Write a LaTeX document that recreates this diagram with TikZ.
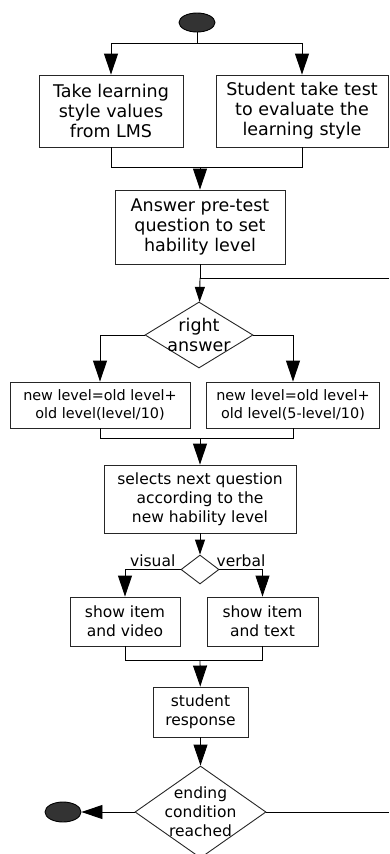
\documentclass[tikz,border=0pt]{standalone}
\usepackage{fontspec}
\setmainfont{DejaVu Sans}
\usetikzlibrary{arrows.meta,shapes.geometric}
\begin{document}
\begin{tikzpicture}[x=1pt,y=-1pt,line width=0.9pt,
                box/.style={draw,black!85,text=black,align=center,inner sep=0pt,font=\fontsize{17.5}{20}\selectfont},
                midbox/.style={box,font=\fontsize{15.5}{19}\selectfont},
                smallbox/.style={box,font=\fontsize{14.4}{18}\selectfont},
                decision/.style={draw,black!85,diamond,inner sep=0pt},
                terminal/.style={draw,ellipse,fill=black!80,minimum width=36pt,minimum height=19pt},
                arr/.style={-{Triangle[width=14pt,length=21pt]}},
                shortarr/.style={-{Triangle[width=10pt,length=15pt]}}]
                \useasboundingbox (0,0) rectangle (389,854);
                \node[terminal] (start) at (197,22.5) {};
                \node[box,minimum width=144pt,minimum height=72pt] (lms) at (111,111) {Take learning\\style values\\from LMS};
                \node[box,minimum width=172pt,minimum height=72pt] (test) at (302,111) {Student take test\\to evaluate the\\learning style};
                \node[box,minimum width=170pt,minimum height=74pt] (pretest) at (200,227) {Answer pre-test\\question to set\\hability level};
                \node[decision,minimum width=108pt,minimum height=66pt,
                      label={[font=\fontsize{17.5}{20}\selectfont,align=center]center:right\\answer}] (right) at (199,335) {};
                \node[smallbox,minimum width=180pt,minimum height=46pt] (up) at (100,405) {new level=old level+\\old level(level/10)};
                \node[smallbox,minimum width=173pt,minimum height=46pt] (down) at (293,405) {new level=old level+\\old level(5-level/10)};
                \node[midbox,minimum width=192pt,minimum height=68pt] (select) at (200,499) {selects next question\\according to the\\new hability level};
                \node[decision,minimum width=38pt,minimum height=29pt] (style) at (200,569.5) {};
                \node[midbox,minimum width=110pt,minimum height=49pt] (video) at (125,621.5) {show item\\and video};
                \node[midbox,minimum width=111pt,minimum height=49pt] (text) at (262.5,621.5) {show item\\and text};
                \node[midbox,minimum width=95pt,minimum height=50pt] (response) at (200.5,712) {student\\response};
                \node[decision,minimum width=131pt,minimum height=92pt,
                      label={[font=\fontsize{15.5}{19}\selectfont,align=center]center:ending\\condition\\reached}] (ending) at (200.5,812) {};
                \node[terminal,minimum height=20pt] (stop) at (63,812) {};
                \coordinate (fork) at (197,43);
                \coordinate (join) at (200,167);
                \coordinate (loop) at (200,278);
                \coordinate (back) at (389,278);
                \coordinate (join2) at (200,438);
                \coordinate (join3) at (200,660);
                \coordinate (again) at (389,812);
                \draw (start) -- (fork);
                \draw[arr] (fork) -| (lms);
                \draw[arr] (fork) -| (test);
                \draw (lms) |- (join);
                \draw (test) |- (join);
                \draw[arr] (join) -- (pretest);
                \draw (pretest) -- (loop);
                \draw (back) -- (loop);
                \draw[shortarr] (loop) -- (right);
                \draw[arr] (right.west) -| (up);
                \draw[arr] (right.east) -| (down);
                \draw (up) |- (join2);
                \draw (down) |- (join2);
                \draw[arr] (join2) -- (select);
                \draw[shortarr] (select) -- (style);
                \draw[arr] (style.west) -| (video) node[pos=0.25,above,inner sep=2pt,font=\fontsize{15.5}{19}\selectfont] {visual};
                \draw[arr] (style.east) -| (text) node[pos=0.25,above,inner sep=2pt,font=\fontsize{15.5}{19}\selectfont] {verbal};
                \draw (video) |- (join3);
                \draw (text) |- (join3);
                \draw[arr] (join3) -- (response);
                \draw[arr] (response) -- (ending);
                \draw[arr] (ending.west) -- (stop);
                \draw (ending.east) -- (again);
            \end{tikzpicture}
\end{document}
